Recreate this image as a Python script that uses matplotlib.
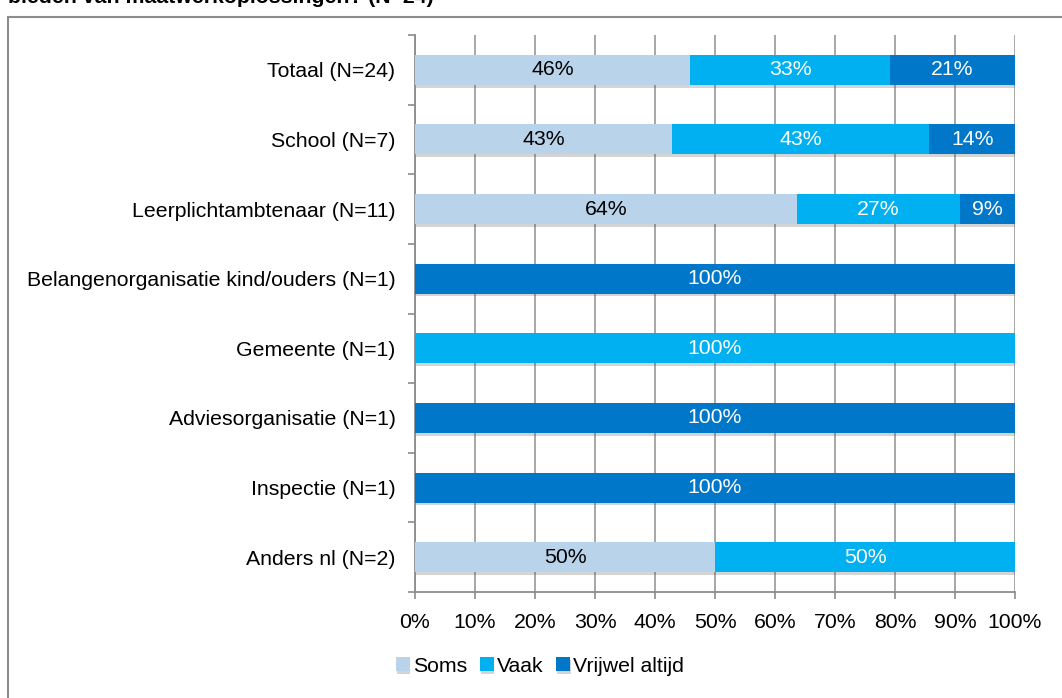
import matplotlib.pyplot as plt
import matplotlib.patheffects as pe
from matplotlib.patches import Rectangle
import numpy as np

plt.rcParams['font.family'] = ['Liberation Sans', 'DejaVu Sans']

# data: number of answers per category (percentages are computed from them)
categories = ['Totaal (N=24)', 'School (N=7)', 'Leerplichtambtenaar (N=11)',
              'Belangenorganisatie kind/ouders (N=1)', 'Gemeente (N=1)',
              'Adviesorganisatie (N=1)', 'Inspectie (N=1)', 'Anders nl (N=2)']
soms = [11, 3, 7, 0, 0, 0, 0, 1]
vaak = [8, 3, 3, 0, 1, 0, 0, 1]
vrijwel_altijd = [5, 1, 1, 1, 0, 1, 1, 0]
series_names = ['Soms', 'Vaak', 'Vrijwel altijd']
colors = ['#B8D3EA', '#00B0F0', '#0077C8']
text_colors = ['black', 'white', 'white']

counts = np.array([soms, vaak, vrijwel_altijd], dtype=float)
shares = counts / counts.sum(axis=0)

fs = 15.3

fig = plt.figure(figsize=(10.62, 6.98), dpi=100)

# title, cut off at the top as in the source
fig.text(8 / 1062, 1 - 3 / 698, 'bieden van maatwerkoplossingen? (N=24)',
         fontsize=fs, fontweight='bold', ha='left', va='baseline')

# outer frame
fig.patches.append(Rectangle((8 / 1062, -0.1), 1.2, 1.1 - 17 / 698,
                             transform=fig.transFigure, fill=False,
                             edgecolor='#8C8C8C', linewidth=1.5))

ax = fig.add_axes([415 / 1062, 106 / 698, 600 / 1062, 557 / 698])

y = np.arange(len(categories))
left = np.zeros(len(categories))
shadow = [pe.SimplePatchShadow(offset=(0.5, -2), alpha=0.25, shadow_rgbFace='#555555'), pe.Normal()]
for i, name in enumerate(series_names):
    ax.barh(y, shares[i] * 100, left=left, height=0.43, color=colors[i],
            label=name, zorder=3, path_effects=shadow)
    for j, v in enumerate(shares[i]):
        if v > 0:
            ax.text(left[j] + v * 50, y[j], f'{v * 100:.0f}%', ha='center', va='center',
                    color=text_colors[i], fontsize=fs, zorder=4)
    left += shares[i] * 100

ax.set_xlim(0, 100)
ax.set_ylim(len(categories) - 0.5, -0.5)
ax.set_xticks(np.arange(0, 101, 10))
ax.set_xticklabels([f'{t}%' for t in range(0, 101, 10)], fontsize=fs)
ax.set_yticks(y)
ax.set_yticklabels(categories, fontsize=fs)
ax.set_yticks(np.arange(-0.5, len(categories), 1), minor=True)
ax.tick_params(axis='y', which='major', length=0, pad=14)
ax.tick_params(axis='y', which='minor', length=5, width=1.2, color='#8C8C8C')
ax.tick_params(axis='x', length=5, width=1.2, color='#8C8C8C', pad=10)

ax.grid(axis='x', color='#A0A0A0', linewidth=1.3, zorder=0)
ax.set_axisbelow(True)
for s in ['top', 'right']:
    ax.spines[s].set_visible(False)
for s in ['left', 'bottom']:
    ax.spines[s].set_color('#8C8C8C')
    ax.spines[s].set_linewidth(1.3)

fig.legend(loc='center', bbox_to_anchor=(540 / 1062, 1 - 666 / 698), ncol=3,
           frameon=False, fontsize=fs, handlelength=0.65, handleheight=0.65,
           handletextpad=0.15, columnspacing=0.6)

fig.savefig('out.png', dpi=100)
